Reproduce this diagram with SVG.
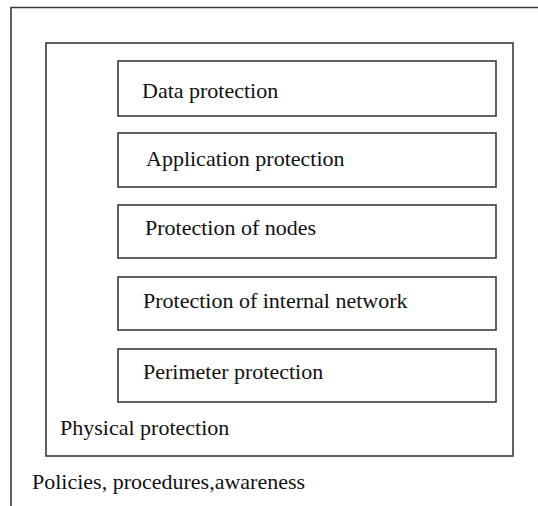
<svg xmlns="http://www.w3.org/2000/svg" width="538" height="506" viewBox="0 0 538 506">
<style>
.b{fill:none;stroke:#3a3a3a;stroke-width:1.6}
.t{font-family:"Liberation Serif","Times New Roman",serif;font-size:22px;fill:#111}
</style>
<rect width="538" height="506" fill="#fff"/>
<g id="outer">
<path class="b" d="M11,506 V7.5 H538"/>
<text class="t" x="32" y="489">Policies, procedures,awareness</text>
</g>
<g id="physical">
<rect class="b" x="46" y="43" width="467" height="413"/>
<text class="t" x="60" y="435">Physical protection</text>
</g>
<g id="data">
<rect class="b" x="118" y="61" width="378" height="55"/>
<text class="t" x="142" y="98">Data protection</text>
</g>
<g id="application">
<rect class="b" x="118" y="133" width="378" height="54"/>
<text class="t" x="146" y="166">Application protection</text>
</g>
<g id="nodes">
<rect class="b" x="118" y="205" width="378" height="53"/>
<text class="t" x="145" y="235">Protection of nodes</text>
</g>
<g id="internal">
<rect class="b" x="118" y="277" width="378" height="53"/>
<text class="t" x="143" y="308">Protection of internal network</text>
</g>
<g id="perimeter">
<rect class="b" x="118" y="349" width="378" height="53"/>
<text class="t" x="143" y="379">Perimeter protection</text>
</g>
<g id="connectors"/>
</svg>
